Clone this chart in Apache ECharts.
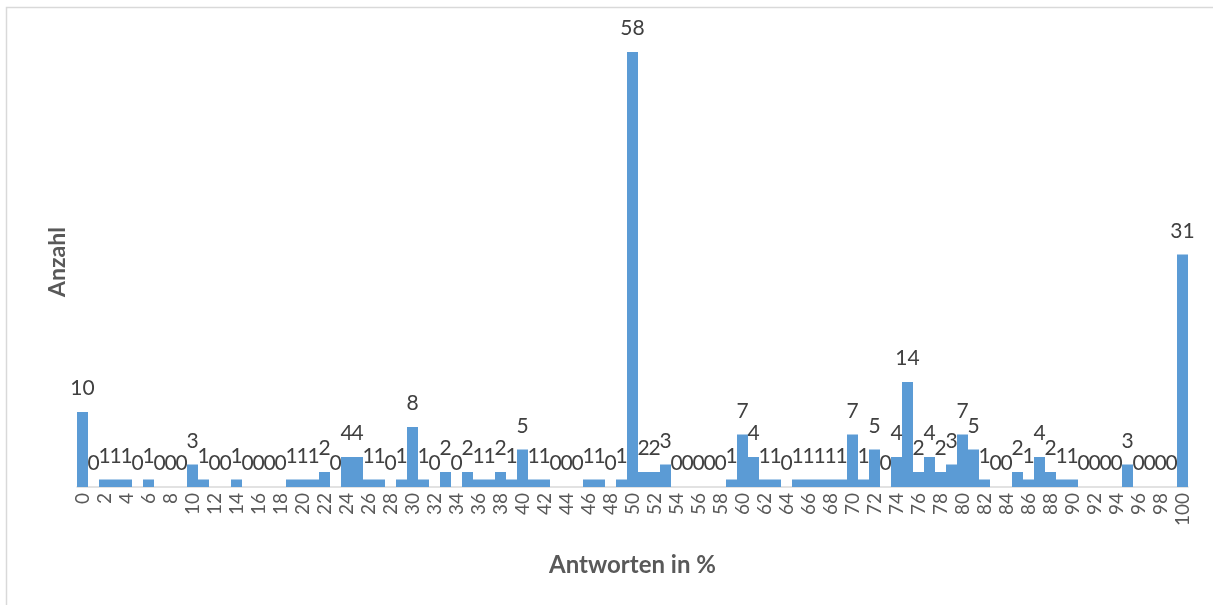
<!DOCTYPE html>
<html>
<head>
<meta charset="utf-8">
<script src="https://cdn.jsdelivr.net/npm/echarts@6/dist/echarts.min.js"></script>
<style>
html,body{margin:0;padding:0;background:#fff;}
#chart{width:1213px;height:605px;}
</style>
</head>
<body>
<div id="chart"></div>
<script>
// categories: answer in percent 0..100
const categories = ["0","1","2","3","4","5","6","7","8","9","10","11","12","13","14","15","16","17","18","19","20","21","22","23","24","25","26","27","28","29","30","31","32","33","34","35","36","37","38","39","40","41","42","43","44","45","46","47","48","49","50","51","52","53","54","55","56","57","58","59","60","61","62","63","64","65","66","67","68","69","70","71","72","73","74","75","76","77","78","79","80","81","82","83","84","85","86","87","88","89","90","91","92","93","94","95","96","97","98","99","100"];
// counts (Anzahl)
const counts = [10,0,1,1,1,0,1,0,0,0,3,1,0,0,1,0,0,0,0,1,1,1,2,0,4,4,1,1,0,1,8,1,0,2,0,2,1,1,2,1,5,1,1,0,0,0,1,1,0,1,58,2,2,3,0,0,0,0,0,1,7,4,1,1,0,1,1,1,1,1,7,1,5,0,4,14,2,4,2,3,7,5,1,0,0,2,1,4,2,1,1,0,0,0,0,3,0,0,0,0,31];
const xTitle = "Antworten in %";
const yTitle = "Anzahl";

const chart = echarts.init(document.getElementById('chart'), null, {renderer:'canvas'});
const FONT = 'Lato, "Open Sans", sans-serif';
chart.setOption({
  animation: false,
  backgroundColor: '#ffffff',
  textStyle: {fontFamily: FONT},
  graphic: [{
    type: 'rect',
    shape: {x: 6.5, y: 7.5, width: 1230, height: 700},
    style: {fill: 'none', stroke: '#d9d9d9', lineWidth: 1.5},
    silent: true, z: -1
  }],
  grid: {left: 77, right: 25, top: 37, bottom: 118},
  xAxis: {
    type: 'category',
    data: categories,
    name: xTitle,
    nameLocation: 'middle',
    nameGap: 66,
    nameTextStyle: {fontFamily: FONT, fontSize: 24, fontWeight: 'bold', color: '#595959'},
    axisLine: {show: true, lineStyle: {color: '#d9d9d9', width: 1.5}},
    axisTick: {show: false},
    axisLabel: {interval: 1, rotate: 90, fontSize: 19, color: '#595959', margin: 6, fontFamily: FONT}
  },
  yAxis: {
    type: 'value',
    min: 0, max: 60, interval: 10,
    name: yTitle,
    nameLocation: 'middle',
    nameGap: 8,
    nameRotate: 90,
    nameTextStyle: {fontFamily: FONT, fontSize: 23, fontWeight: 'bold', color: '#595959'},
    axisLine: {show: false},
    axisTick: {show: false},
    axisLabel: {show: false},
    splitLine: {show: false}
  },
  series: [{
    type: 'bar',
    data: counts,
    barCategoryGap: '0%',
    itemStyle: {color: '#5B9BD5'},
    label: {show: true, position: 'top', distance: 13, fontSize: 21, color: '#404040', fontFamily: FONT}
  }]
});
</script>
</body>
</html>
